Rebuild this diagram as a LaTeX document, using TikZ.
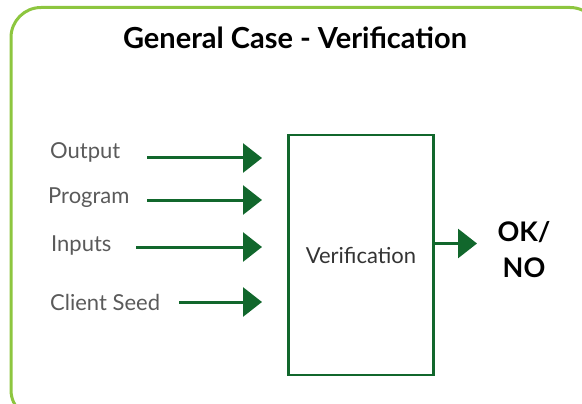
\documentclass[tikz,border=0pt]{standalone}
\usepackage{fontspec}
\setmainfont{Lato}
\usetikzlibrary{arrows.meta}
\definecolor{framegreen}{HTML}{8DC63F}
\definecolor{darkgreen}{HTML}{11672C}
\definecolor{labelgray}{HTML}{5A5A5A}
\begin{document}
\begin{tikzpicture}[x=1pt,y=-1pt,
  lbl/.style={text=labelgray,font=\fontsize{22}{26}\selectfont,inner sep=0pt},
  flow/.style={draw=darkgreen,line width=3pt,-{Triangle[length=19pt,width=29pt]}},
  verbox/.style={draw=darkgreen,line width=2.5pt,minimum width=145pt,minimum height=240pt,inner sep=0pt}]
  \useasboundingbox (0,0) rectangle (582,404);
  % outer frame
  \draw[framegreen,line width=3pt,rounded corners=30pt] (11,7.5) rectangle (600,420);
  % title
  \node[font=\bfseries\fontsize{29}{34}\selectfont,inner sep=0pt] (title) at (295,38) {General Case - Verification};
  % verification block
  \node[verbox,text=black!80,font=\fontsize{22}{26}\selectfont] (ver) at (361,255) {Verification};
  % input labels
  \node[lbl,anchor=west] (out) at (50,152) {Output};
  \node[lbl,anchor=west] (prog) at (48,198) {Program};
  \node[lbl,anchor=west] (inp) at (51,246) {Inputs};
  \node[lbl,anchor=west] (seed) at (50,302) {Client Seed};
  % arrow tips in front of the block
  \coordinate (t1) at (262,158);
  \coordinate (t2) at (262,200);
  \coordinate (t3) at (262,247);
  \coordinate (t4) at (262,302);
  \coordinate (s1) at (147,158);
  \coordinate (s2) at (147,200);
  \coordinate (s3) at (136,247);
  \coordinate (s4) at (179,302);
  \draw[flow] (s1) -- (t1);
  \draw[flow] (s2) -- (t2);
  \draw[flow] (s3) -- (t3);
  \draw[flow] (s4) -- (t4);
  % result
  \node[font=\bfseries\fontsize{27}{36}\selectfont,align=center,inner sep=0pt] (res) at (524,250) {OK/\\NO};
  \coordinate (rt) at (477,243.5);
  \draw[flow] (ver.east |- rt) -- (rt);
\end{tikzpicture}
\end{document}
